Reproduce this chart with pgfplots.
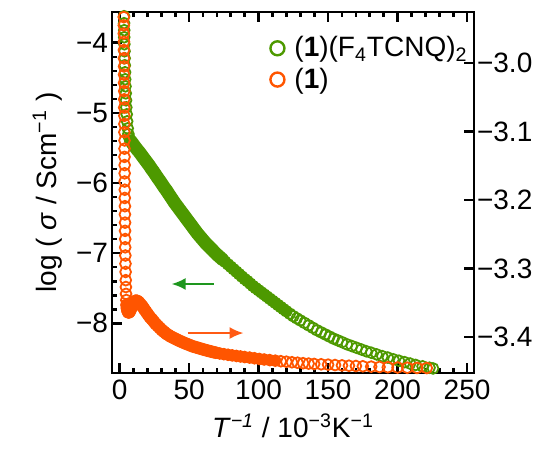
\documentclass[border=0pt]{standalone}
\usepackage{pgfplots}
\usepackage{pgfplotstable}
\pgfplotsset{compat=1.18}
\usepackage{fontspec}
\setmainfont{Liberation Sans}
\usetikzlibrary{arrows.meta}
\definecolor{cgreen}{RGB}{77,153,0}
\definecolor{corange}{RGB}{255,85,0}
\definecolor{agreen}{RGB}{30,150,30}
\definecolor{aorange}{RGB}{255,90,20}

% (1)(F4TCNQ)2, left axis
\pgfplotstableread{
x y
3.2 -3.62
3.2 -3.72
3.3 -3.82
3.3 -3.92
3.4 -4.02
3.5 -4.12
3.6 -4.22
3.7 -4.32
3.9 -4.42
4.0 -4.52
4.2 -4.62
4.4 -4.72
4.6 -4.82
4.8 -4.92
5.1 -5.02
5.4 -5.12
5.8 -5.22
6.3 -5.30
7.0 -5.36
8 -5.40
9.5 -5.44
11 -5.48
12.5 -5.52
14 -5.555
15.5 -5.595
17 -5.635
18.5 -5.675
20 -5.715
21.5 -5.755
23 -5.80
24.5 -5.84
26 -5.885
27.5 -5.93
29 -5.97
30.5 -6.015
32 -6.06
33.5 -6.10
35 -6.145
36.5 -6.19
38 -6.235
39.5 -6.28
41 -6.32
42.5 -6.36
44 -6.40
45.5 -6.44
47 -6.48
48.5 -6.52
50 -6.56
51.5 -6.60
53 -6.64
54.5 -6.68
56 -6.72
57.5 -6.755
59 -6.79
60.5 -6.825
62 -6.86
64 -6.90
66 -6.94
68 -6.98
70 -7.02
72 -7.055
74 -7.09
76 -7.125
78 -7.16
80 -7.195
82 -7.23
84 -7.265
86 -7.30
88 -7.335
90 -7.37
92 -7.40
94 -7.435
96 -7.47
98 -7.50
100 -7.53
102 -7.56
104 -7.59
106 -7.62
108 -7.65
110 -7.68
112 -7.71
114 -7.74
116 -7.77
118 -7.80
120 -7.83
122.5 -7.865
125 -7.90
127.5 -7.93
130 -7.96
133 -7.995
136 -8.03
139 -8.065
142 -8.10
145 -8.13
148 -8.16
151 -8.19
154 -8.22
157 -8.245
160 -8.27
163.5 -8.30
167 -8.325
170.5 -8.35
174 -8.375
177.5 -8.40
181 -8.42
185 -8.445
189 -8.47
193 -8.49
197 -8.515
201 -8.535
205 -8.555
209 -8.575
213 -8.595
218 -8.615
223 -8.635
225.5 -8.645
}\greendata

% (1), right axis
\pgfplotstableread{
x y
3.0 -2.933
3.0 -2.945
3.0 -2.957
3.1 -2.969
3.1 -2.981
3.1 -2.993
3.2 -3.005
3.2 -3.017
3.2 -3.029
3.3 -3.041
3.3 -3.053
3.3 -3.065
3.4 -3.077
3.4 -3.089
3.4 -3.101
3.5 -3.113
3.5 -3.125
3.5 -3.137
3.6 -3.149
3.6 -3.161
3.6 -3.173
3.7 -3.185
3.7 -3.197
3.8 -3.209
3.8 -3.221
3.9 -3.233
3.9 -3.245
4.0 -3.257
4.0 -3.269
4.1 -3.281
4.2 -3.293
4.3 -3.305
4.4 -3.317
4.5 -3.327
4.6 -3.337
4.8 -3.346
5.0 -3.353
5.3 -3.358
5.7 -3.362
6.2 -3.364
6.8 -3.364
7.5 -3.362
8.3 -3.358
9.2 -3.353
10.2 -3.349
11.3 -3.347
12.5 -3.347
13.8 -3.349
15 -3.352
16.3 -3.355
17.6 -3.359
19 -3.363
20.4 -3.367
21.8 -3.371
23.2 -3.374
24.6 -3.3775
26 -3.381
27.5 -3.384
29 -3.387
30.5 -3.390
32 -3.3925
33.5 -3.395
35 -3.397
37 -3.3995
39 -3.4015
41 -3.4035
43 -3.4055
45 -3.4073
47.5 -3.4095
50 -3.4115
52.5 -3.4135
55 -3.415
57.5 -3.4165
60 -3.418
63 -3.4197
66 -3.4213
69 -3.4228
72 -3.424
75 -3.4250
78 -3.4259
81 -3.4268
84 -3.4276
87 -3.4284
90 -3.4292
93.5 -3.430
97 -3.431
100.5 -3.432
104 -3.4328
108 -3.4337
112 -3.4345
116 -3.4353
120 -3.436
124 -3.4368
128 -3.4375
132 -3.4382
136 -3.4388
140 -3.4393
145 -3.4398
150 -3.4403
155 -3.4409
160 -3.4414
165 -3.4419
170 -3.4423
175 -3.4427
181 -3.4432
187 -3.4437
193 -3.4441
200 -3.4445
207 -3.4448
214 -3.4451
221 -3.4453
}\orangedata

\begin{document}
\begin{tikzpicture}[font=\fontsize{14}{17}\selectfont]
\pgfplotsset{
  every axis/.append style={
    width=181pt,height=180.5pt,scale only axis,
    xmin=-5.5,xmax=255,
    axis line style={line width=1.35pt},
    every tick/.style={black,line width=1.35pt},
    major tick length=5pt,minor tick length=2.6pt,
    tick label style={font=\fontsize{14}{17}\selectfont},
    label style={font=\fontsize{14}{17}\selectfont},
  },
  sig/.style={only marks,mark=o,mark size=2.7pt,line width=0.9pt},
  band/.style={no marks,line join=round,line cap=round},
}
\begin{axis}[
  name=main,
  ymin=-8.71,ymax=-3.56,
  xtick={0,50,100,150,200,250},xticklabels={0,50,100,150,200,250},
  minor x tick num=4,
  ytick={-8,-7,-6,-5,-4},yticklabels={−8,−7,−6,−5,−4},
  minor y tick num=4,
  ytick pos=left,
  yticklabel style={xshift=1.5pt},
  xlabel={\textit{T}\textsuperscript{\textit{−1}} / 10\textsuperscript{−3}K\textsuperscript{−1}},
  ylabel={log ( \textit{σ} / Scm\textsuperscript{−1} )},
  legend style={at={(0.42,0.955)},anchor=north west,draw=none,fill=none,
    font=\fontsize{14}{17}\selectfont,row sep=0pt},
  legend cell align=left,
]
\addplot[band,line width=6.6pt,cgreen,restrict x to domain=7.5:75,forget plot] table {\greendata};
\addplot[band,line width=5.4pt,cgreen,restrict x to domain=74:120,forget plot] table {\greendata};
\addplot[sig,cgreen,forget plot] table {\greendata};
\addlegendimage{only marks,mark=o,mark size=3.5pt,line width=1.2pt,cgreen}
\addlegendentry{\hspace{3pt}(\textbf{1})(F\textsubscript{4}TCNQ)\textsubscript{2}}
\addlegendimage{only marks,mark=o,mark size=3.5pt,line width=1.2pt,corange}
\addlegendentry{\hspace{3pt}(\textbf{1})}
\draw[agreen,line width=1.1pt,-{Latex[length=7pt,width=6pt]}] (axis cs:67.6,-7.44) -- (axis cs:37.4,-7.44);
\draw[aorange,line width=1.1pt,-{Latex[length=7pt,width=6pt]}] (axis cs:48.9,-8.14) -- (axis cs:89.2,-8.14);
\end{axis}
\begin{axis}[
  ymin=-3.4525,ymax=-2.9255,
  axis x line=none,axis y line*=right,
  ytick={-3.4,-3.3,-3.2,-3.1,-3.0},yticklabels={−3.4,−3.3,−3.2,−3.1,−3.0},
  minor y tick num=0,
  ytick pos=right,yticklabel pos=right,
  yticklabel style={xshift=-2pt},
]
\addplot[band,line width=6.2pt,corange,restrict x to domain=5:70] table {\orangedata};
\addplot[band,line width=5pt,corange,restrict x to domain=69:115] table {\orangedata};
\addplot[sig,corange] table {\orangedata};
\end{axis}
\pgfresetboundingbox
\path[use as bounding box] ([shift={(-56pt,-40.5pt)}]main.south west) rectangle ([shift={(34pt,6pt)}]main.north east);
\end{tikzpicture}
\end{document}
